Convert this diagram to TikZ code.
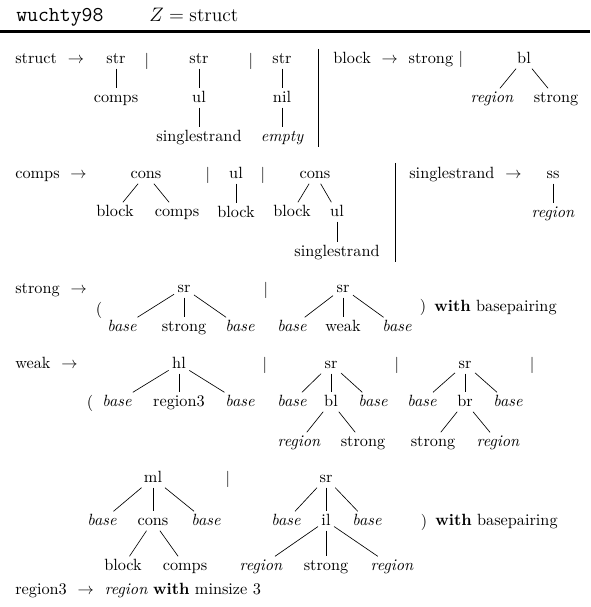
\documentclass[tikz,border=0pt]{standalone}
\usepackage{amsmath,amssymb}
\usepackage{tikz}
\tikzstyle{NodeSym}=[inner sep=2pt,text height=1.5ex,text depth=.25ex]
\tikzstyle{NodeTerm}=[NodeSym,font=\itshape]
\tikzstyle{NodeBar}=[inner sep=0pt]
\tikzstyle{NodeRule}=[anchor=west,inner sep=0pt,text height=1.5ex,text depth=.25ex]
\tikzstyle{NodeHead}=[anchor=base west,inner sep=0pt,font=\fontsize{13}{15}\selectfont]
\tikzstyle{EdgeTree}=[black,line width=.4pt]
\tikzstyle{SepLine}=[black,line width=.5pt]

\begin{document}
\begin{tikzpicture}[x=0.615pt,y=-0.615pt]
    \useasboundingbox(0,0)rectangle(590,607);
    % header
    \node[NodeHead](hd1)at(16,22){\texttt{wuchty98}};
    \node[NodeHead](hd2)at(149,22){$Z=\mathrm{struct}$};
    \draw[line width=1.6pt](0,31.5)--(590,31.5);
    % struct
    \node[NodeRule](l1)at(15,59){struct~~$\rightarrow$};
    \node[NodeSym](a1)at(116,59){str};
    \node[NodeSym](a1c)at(116,98){comps};
    \node[NodeBar](b1)at(147,61){$|$};
    \node[NodeSym](a2)at(199,59){str};
    \node[NodeSym](a2c)at(199,98){ul};
    \node[NodeSym](a2g)at(199,137){singlestrand};
    \node[NodeBar](b2)at(251,61){$|$};
    \node[NodeSym](a3)at(282,59){str};
    \node[NodeSym](a3c)at(282,98){nil};
    \node[NodeTerm](a3g)at(282,137){empty};
    \draw[EdgeTree](a1)--(a1c);
    \draw[EdgeTree](a2)--(a2c)--(a2g);
    \draw[EdgeTree](a3)--(a3c)--(a3g);
    \draw[SepLine](318,49)--(318,147);
    % block
    \node[NodeRule](l2)at(333,59){block~~$\rightarrow$~~strong~$|$};
    \node[NodeSym](a4)at(524,59){bl};
    \node[NodeTerm](a4l)at(492,98){region};
    \node[NodeSym](a4r)at(556,98){strong};
    \draw[EdgeTree](a4)edge(a4l)edge(a4r);
    % comps
    \node[NodeRule](l3)at(15,174){comps~~$\rightarrow$};
    \node[NodeSym](c1)at(146,174){cons};
    \node[NodeSym](c1l)at(115,212){block};
    \node[NodeSym](c1r)at(177,212){comps};
    \node[NodeBar](b3)at(208,175){$|$};
    \node[NodeSym](c2)at(236,174){ul};
    \node[NodeSym](c2c)at(236,213){block};
    \node[NodeBar](b4)at(263,175){$|$};
    \node[NodeSym](c3)at(315,174){cons};
    \node[NodeSym](c3l)at(292,212){block};
    \node[NodeSym](c3r)at(337,212){ul};
    \node[NodeSym](c3g)at(337,252){singlestrand};
    \draw[EdgeTree](c1)edge(c1l)edge(c1r);
    \draw[EdgeTree](c2)--(c2c);
    \draw[EdgeTree](c3)edge(c3l)edge(c3r);
    \draw[EdgeTree](c3r)--(c3g);
    \draw[SepLine](395,163)--(395,262);
    % singlestrand
    \node[NodeRule](l4)at(409,174){singlestrand~~$\rightarrow$};
    \node[NodeSym](c4)at(553,174){ss};
    \node[NodeTerm](c4c)at(553,213){region};
    \draw[EdgeTree](c4)--(c4c);
    % strong
    \node[NodeRule](l5)at(15,289){strong~~$\rightarrow$};
    \node[NodeBar](p1)at(99,310){(};
    \node[NodeSym](d1)at(184,288){sr};
    \node[NodeTerm](d1l)at(122,327){base};
    \node[NodeSym](d1m)at(184,327){strong};
    \node[NodeTerm](d1r)at(240,327){base};
    \node[NodeBar](b5)at(266,290){$|$};
    \node[NodeSym](d2)at(343,288){sr};
    \node[NodeTerm](d2l)at(292,327){base};
    \node[NodeSym](d2m)at(343,327){weak};
    \node[NodeTerm](d2r)at(397,327){base};
    \node[NodeBar](p2)at(423,307){)};
    \node[NodeRule](w1)at(434,307){\textbf{with} basepairing};
    \draw[EdgeTree](d1)edge(d1l)edge(d1m)edge(d1r);
    \draw[EdgeTree](d2)edge(d2l)edge(d2m)edge(d2r);
    % weak
    \node[NodeRule](l6)at(15,364){weak~~$\rightarrow$};
    \node[NodeBar](p3)at(90,403){(};
    \node[NodeSym](e1)at(179,364){hl};
    \node[NodeTerm](e1l)at(117,402){base};
    \node[NodeSym](e1m)at(179,402){region3};
    \node[NodeTerm](e1r)at(240,402){base};
    \node[NodeBar](b6)at(265,365){$|$};
    \node[NodeSym](e2)at(331,364){sr};
    \node[NodeTerm](e2l)at(292,402){base};
    \node[NodeSym](e2m)at(331,402){bl};
    \node[NodeTerm](e2r)at(373,402){base};
    \node[NodeTerm](e2a)at(299,442){region};
    \node[NodeSym](e2b)at(363,442){strong};
    \node[NodeBar](b7)at(397,365){$|$};
    \node[NodeSym](e3)at(465,364){sr};
    \node[NodeTerm](e3l)at(422,402){base};
    \node[NodeSym](e3m)at(465,402){br};
    \node[NodeTerm](e3r)at(508,402){base};
    \node[NodeSym](e3a)at(433,442){strong};
    \node[NodeTerm](e3b)at(498,442){region};
    \node[NodeBar](b8)at(532,365){$|$};
    \draw[EdgeTree](e1)edge(e1l)edge(e1m)edge(e1r);
    \draw[EdgeTree](e2)edge(e2l)edge(e2m)edge(e2r);
    \draw[EdgeTree](e2m)edge(e2a)edge(e2b);
    \draw[EdgeTree](e3)edge(e3l)edge(e3m)edge(e3r);
    \draw[EdgeTree](e3m)edge(e3a)edge(e3b);
    % weak, continued
    \node[NodeSym](f1)at(153,478){ml};
    \node[NodeTerm](f1l)at(102,521){base};
    \node[NodeSym](f1m)at(153,521){cons};
    \node[NodeTerm](f1r)at(206,521){base};
    \node[NodeSym](f1a)at(123,566){block};
    \node[NodeSym](f1b)at(185,566){comps};
    \node[NodeBar](b9)at(228,479){$|$};
    \node[NodeSym](f2)at(326,478){sr};
    \node[NodeTerm](f2l)at(286,521){base};
    \node[NodeSym](f2m)at(326,521){il};
    \node[NodeTerm](f2r)at(367,521){base};
    \node[NodeTerm](f2a)at(261,566){region};
    \node[NodeSym](f2b)at(326,566){strong};
    \node[NodeTerm](f2c)at(392,566){region};
    \node[NodeBar](p4)at(424,522){)};
    \node[NodeRule](w2)at(435,521){\textbf{with} basepairing};
    \draw[EdgeTree](f1)edge(f1l)edge(f1m)edge(f1r);
    \draw[EdgeTree](f1m)edge(f1a)edge(f1b);
    \draw[EdgeTree](f2)edge(f2l)edge(f2m)edge(f2r);
    \draw[EdgeTree](f2m)edge(f2a)edge(f2b)edge(f2c);
    % region3
    \node[NodeRule](l7)at(15,590){region3~~$\rightarrow$~~\textit{region} \textbf{with} minsize 3};
\end{tikzpicture}
\end{document}
